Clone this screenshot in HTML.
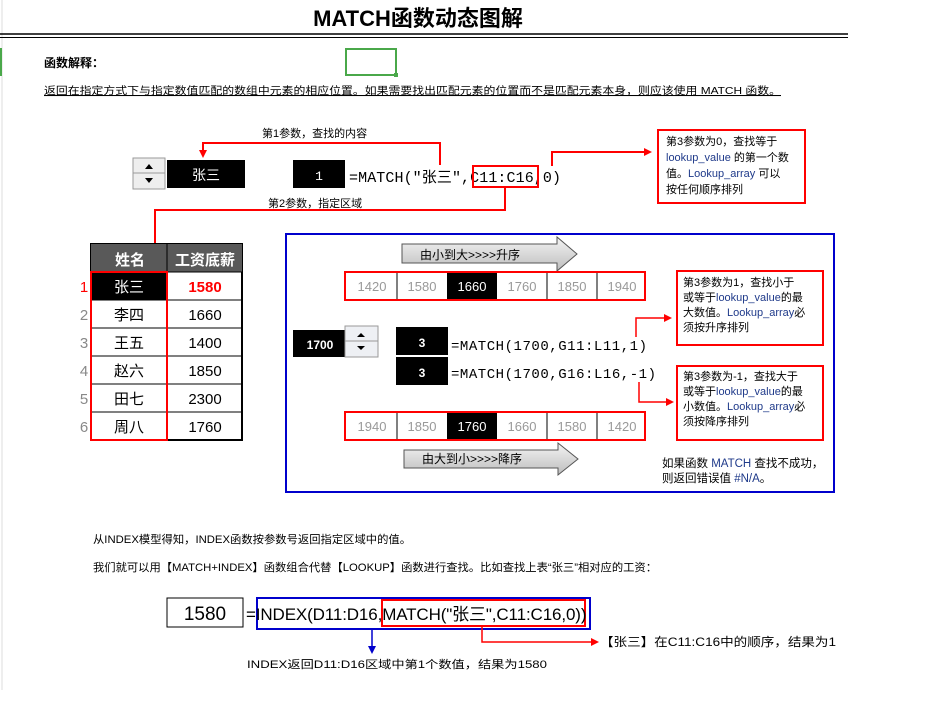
<!DOCTYPE html>
<html><head><meta charset="utf-8"><style>
body{margin:0;background:#fff;width:930px;height:708px;overflow:hidden}
svg{display:block}
text{font-family:"Liberation Sans","Noto Sans CJK SC",sans-serif}
.m{font-family:"Liberation Mono","Noto Sans CJK SC",monospace}
</style></head><body>
<svg width="930" height="708" viewBox="0 0 930 708" xmlns="http://www.w3.org/2000/svg">
<defs>
<linearGradient id="g" x1="0" y1="0" x2="0" y2="1"><stop offset="0" stop-color="#f4f4f4"/><stop offset="1" stop-color="#bdbdbd"/></linearGradient>
<marker id="ar" markerWidth="8" markerHeight="8" refX="6" refY="4" orient="auto" markerUnits="userSpaceOnUse"><path d="M0,0L8,4L0,8z" fill="#f00"/></marker>
<marker id="ab" markerWidth="8" markerHeight="8" refX="6" refY="4" orient="auto" markerUnits="userSpaceOnUse"><path d="M0,0L8,4L0,8z" fill="#00c"/></marker>
</defs>
<line x1="2" y1="0" x2="2" y2="690" stroke="#ddd"/>
<line x1="1" y1="48" x2="1" y2="76" stroke="#4aa84a" stroke-width="2"/>
<text x="418" y="26" font-size="22" font-weight="bold" text-anchor="middle">MATCH函数动态图解</text>
<line x1="0" y1="34" x2="848" y2="34" stroke="#000" stroke-width="1.5"/>
<line x1="0" y1="37.5" x2="848" y2="37.5" stroke="#000" stroke-width="1"/>
<rect x="346" y="49" width="50" height="26" fill="none" stroke="#4aa84a" stroke-width="2"/>
<rect x="394" y="73" width="4" height="4" fill="#4aa84a"/>
<text x="44" y="67" font-size="12" font-weight="bold">函数解释：</text>
<text x="44" y="94" font-size="10.5" text-decoration="underline" textLength="737" lengthAdjust="spacingAndGlyphs">返回在指定方式下与指定数值匹配的数组中元素的相应位置。如果需要找出匹配元素的位置而不是匹配元素本身，则应该使用 MATCH 函数。</text>

<text x="262" y="137" font-size="11">第1参数，查找的内容</text>
<polyline points="440,165 440,143 203,143 203,156" fill="none" stroke="#f00" stroke-width="2" marker-end="url(#ar)"/>
<rect x="133" y="158" width="32" height="31" fill="#eee" stroke="#999"/>
<line x1="133" y1="173" x2="165" y2="173" stroke="#999"/>
<path d="M145,169L149,164L153,169z M145,178L149,183L153,178z" fill="#000"/>
<rect x="167" y="160" width="78" height="28" fill="#000"/>
<text x="206" y="180" font-size="14" fill="#fff" text-anchor="middle">张三</text>
<rect x="293" y="160" width="52" height="28" fill="#000"/>
<text x="319" y="180" font-size="13" fill="#fff" text-anchor="middle" class="m">1</text>
<text x="349" y="182" font-size="15" class="m" textLength="212">=MATCH("张三",C11:C16,0)</text>
<rect x="473" y="166" width="65" height="21" fill="none" stroke="#f00" stroke-width="2"/>
<polyline points="505,187 505,210 155,210 155,263" fill="none" stroke="#f00" stroke-width="2" marker-end="url(#ar)"/>
<text x="268" y="207" font-size="11">第2参数，指定区域</text>
<polyline points="552,166 552,152 650,152" fill="none" stroke="#f00" stroke-width="2" marker-end="url(#ar)"/>
<rect x="658" y="130" width="147" height="73" fill="none" stroke="#f00" stroke-width="2"/>
<text font-size="11"><tspan x="666" y="145">第3参数为0，查找等于</tspan><tspan x="666" y="161"><tspan fill="#1f3a8a">lookup_value</tspan> 的第一个数</tspan><tspan x="666" y="177">值。<tspan fill="#1f3a8a">Lookup_array</tspan> 可以</tspan><tspan x="666" y="193">按任何顺序排列</tspan></text>

<rect x="91" y="244" width="151" height="196" fill="#fff" stroke="#000" stroke-width="2"/>
<rect x="91" y="244" width="151" height="28" fill="#595959"/>
<line x1="167" y1="244" x2="167" y2="440" stroke="#000"/>
<text x="130" y="265" font-size="15" fill="#fff" font-weight="bold" text-anchor="middle">姓名</text>
<text x="205" y="265" font-size="15" fill="#fff" font-weight="bold" text-anchor="middle">工资底薪</text>
<rect x="91" y="272" width="76" height="28" fill="#000"/>
<g font-size="15" text-anchor="middle">
<line x1="91" y1="300" x2="242" y2="300" stroke="#000"/><line x1="91" y1="328" x2="242" y2="328" stroke="#000"/><line x1="91" y1="356" x2="242" y2="356" stroke="#000"/><line x1="91" y1="384" x2="242" y2="384" stroke="#000"/><line x1="91" y1="412" x2="242" y2="412" stroke="#000"/><line x1="91" y1="272" x2="242" y2="272" stroke="#000"/>
<text x="129" y="292" fill="#fff">张三</text><text x="205" y="292" fill="#f00" font-weight="bold">1580</text>
<text x="129" y="320">李四</text><text x="205" y="320">1660</text>
<text x="129" y="348">王五</text><text x="205" y="348">1400</text>
<text x="129" y="376">赵六</text><text x="205" y="376">1850</text>
<text x="129" y="404">田七</text><text x="205" y="404">2300</text>
<text x="129" y="432">周八</text><text x="205" y="432">1760</text>
<text x="84" y="292" fill="#f00">1</text><text x="84" y="320" fill="#888">2</text><text x="84" y="348" fill="#888">3</text><text x="84" y="376" fill="#888">4</text><text x="84" y="404" fill="#888">5</text><text x="84" y="432" fill="#888">6</text>
</g>
<rect x="91" y="272" width="76" height="168" fill="none" stroke="#f00" stroke-width="2"/>

<rect x="286" y="234" width="548" height="258" fill="none" stroke="#00c" stroke-width="2"/>
<path d="M402,244H557V237L577,254L557,271V263H402z" fill="url(#g)" stroke="#555"/>
<text x="470" y="259" font-size="12" text-anchor="middle">由小到大&gt;&gt;&gt;&gt;升序</text>
<g font-size="13" text-anchor="middle" fill="#999">
<rect x="345" y="272" width="300" height="28" fill="#fff" stroke="#f00" stroke-width="2"/>
<rect x="447" y="273" width="50" height="26" fill="#000"/>
<line x1="397" y1="273" x2="397" y2="299" stroke="#000"/><line x1="547" y1="273" x2="547" y2="299" stroke="#000"/><line x1="597" y1="273" x2="597" y2="299" stroke="#000"/>
<text x="372" y="291">1420</text><text x="422" y="291">1580</text><text x="472" y="291" fill="#fff">1660</text><text x="522" y="291">1760</text><text x="572" y="291">1850</text><text x="622" y="291">1940</text>
<rect x="345" y="412" width="300" height="28" fill="#fff" stroke="#f00" stroke-width="2"/>
<rect x="447" y="413" width="50" height="26" fill="#000"/>
<line x1="397" y1="413" x2="397" y2="439" stroke="#000"/><line x1="547" y1="413" x2="547" y2="439" stroke="#000"/><line x1="597" y1="413" x2="597" y2="439" stroke="#000"/>
<text x="372" y="431">1940</text><text x="422" y="431">1850</text><text x="472" y="431" fill="#fff">1760</text><text x="522" y="431">1660</text><text x="572" y="431">1580</text><text x="622" y="431">1420</text>
</g>
<rect x="293" y="330" width="52" height="27" fill="#000"/>
<text x="320" y="349" font-size="12" font-weight="bold" fill="#fff" text-anchor="middle">1700</text>
<rect x="345" y="326" width="33" height="31" fill="#eef0f4" stroke="#999"/>
<line x1="345" y1="341" x2="378" y2="341" stroke="#999"/>
<path d="M357,337L361,333L365,337z M357,346L361,350L365,346z" fill="#000"/>
<rect x="396" y="327" width="52" height="28" fill="#000"/>
<rect x="396" y="357" width="52" height="28" fill="#000"/>
<text x="422" y="347" font-size="12" font-weight="bold" fill="#fff" text-anchor="middle">3</text>
<text x="422" y="377" font-size="12" font-weight="bold" fill="#fff" text-anchor="middle">3</text>
<text x="451" y="350" font-size="14" class="m" textLength="196">=MATCH(1700,G11:L11,1)</text>
<text x="451" y="378" font-size="14" class="m" textLength="205">=MATCH(1700,G16:L16,-1)</text>
<polyline points="636,337 636,318 670,318" fill="none" stroke="#f00" stroke-width="1.5" marker-end="url(#ar)"/>
<polyline points="639,382 639,402 672,402" fill="none" stroke="#f00" stroke-width="1.5" marker-end="url(#ar)"/>
<rect x="677" y="271" width="146" height="74" fill="none" stroke="#f00" stroke-width="2"/>
<rect x="677" y="366" width="146" height="74" fill="none" stroke="#f00" stroke-width="2"/>
<text font-size="11"><tspan x="683" y="286">第3参数为1，查找小于</tspan><tspan x="683" y="301">或等于<tspan fill="#1f3a8a">lookup_value</tspan>的最</tspan><tspan x="683" y="316">大数值。<tspan fill="#1f3a8a">Lookup_array</tspan>必</tspan><tspan x="683" y="331">须按升序排列</tspan></text>
<text font-size="11"><tspan x="683" y="380">第3参数为-1，查找大于</tspan><tspan x="683" y="395">或等于<tspan fill="#1f3a8a">lookup_value</tspan>的最</tspan><tspan x="683" y="410">小数值。<tspan fill="#1f3a8a">Lookup_array</tspan>必</tspan><tspan x="683" y="425">须按降序排列</tspan></text>
<path d="M404,450H558V443L578,459L558,475V468H404z" fill="url(#g)" stroke="#555"/>
<text x="472" y="463" font-size="12" text-anchor="middle">由大到小&gt;&gt;&gt;&gt;降序</text>
<text font-size="11.5"><tspan x="662" y="467">如果函数 <tspan fill="#1f3a8a">MATCH</tspan> 查找不成功，</tspan><tspan x="662" y="482">则返回错误值 <tspan fill="#1f3a8a">#N/A</tspan>。</tspan></text>

<text x="93" y="543" font-size="11" textLength="318" lengthAdjust="spacingAndGlyphs">从INDEX模型得知，INDEX函数按参数号返回指定区域中的值。</text>
<text x="93" y="571" font-size="11" textLength="564" lengthAdjust="spacingAndGlyphs">我们就可以用【MATCH+INDEX】函数组合代替【LOOKUP】函数进行查找。比如查找上表“张三”相对应的工资：</text>
<rect x="167" y="598" width="76" height="29" fill="none" stroke="#000"/>
<text x="205" y="620" font-size="19" text-anchor="middle">1580</text>
<rect x="257" y="598" width="333" height="31" fill="none" stroke="#00c" stroke-width="2"/>
<rect x="382" y="600" width="203" height="26" fill="none" stroke="#f00" stroke-width="2"/>
<text x="246" y="620" font-size="17" textLength="340" style="letter-spacing:-0.5px">=INDEX(D11:D16,MATCH("张三",C11:C16,0))</text>
<line x1="372" y1="629" x2="372" y2="652" stroke="#00c" stroke-width="1.5" marker-end="url(#ab)"/>
<text x="247" y="668" font-size="11" textLength="300" lengthAdjust="spacingAndGlyphs">INDEX返回D11:D16区域中第1个数值，结果为1580</text>
<polyline points="482,626 482,642 597,642" fill="none" stroke="#f00" stroke-width="1.5" marker-end="url(#ar)"/>
<text x="600" y="646" font-size="12" textLength="236" lengthAdjust="spacingAndGlyphs">【张三】在C11:C16中的顺序，结果为1</text>
</svg>
</body></html>
